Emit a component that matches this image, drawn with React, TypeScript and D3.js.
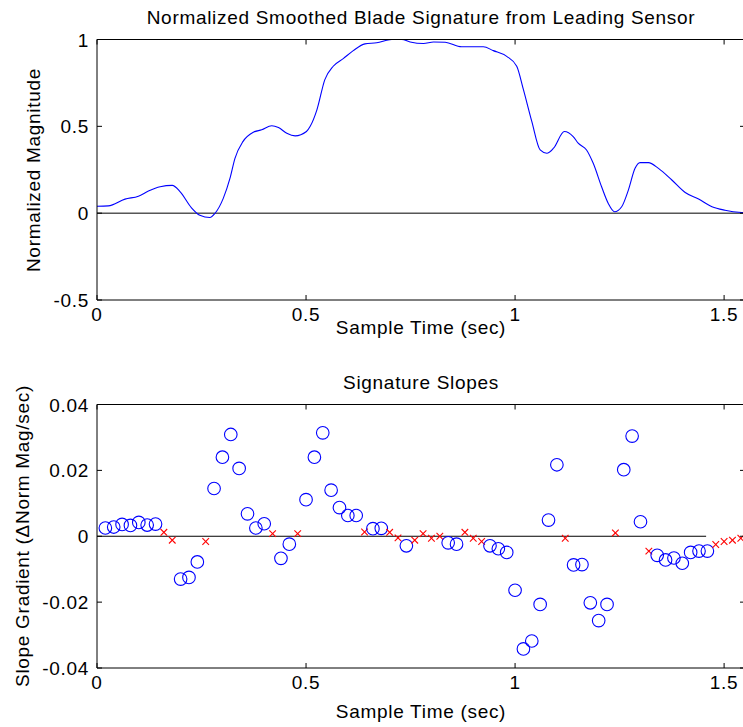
import React from "react";
import * as d3 from "d3";

const sigT = [0, 0.027, 0.067, 0.099, 0.123, 0.151, 0.18, 0.199, 0.226, 0.246, 0.27, 0.282, 0.302, 0.318, 0.33, 0.349, 0.374, 0.394, 0.418, 0.434, 0.454, 0.474, 0.501, 0.51, 0.526, 0.545, 0.565, 0.589, 0.613, 0.641, 0.669, 0.705, 0.729, 0.749, 0.781, 0.805, 0.833, 0.872, 0.924, 0.948, 0.98, 1.004, 1.02, 1.04, 1.06, 1.076, 1.092, 1.118, 1.139, 1.151, 1.171, 1.187, 1.207, 1.223, 1.238, 1.255, 1.271, 1.287, 1.299, 1.319, 1.343, 1.375, 1.407, 1.439, 1.471, 1.502, 1.542, 1.55];
const sigV = [0.04, 0.042, 0.081, 0.098, 0.127, 0.152, 0.16, 0.123, 0.031, -0.012, -0.025, -0.002, 0.085, 0.2, 0.316, 0.412, 0.466, 0.48, 0.503, 0.493, 0.46, 0.445, 0.47, 0.5, 0.595, 0.769, 0.846, 0.89, 0.936, 0.975, 0.981, 1.0, 1.0, 0.986, 0.977, 0.986, 0.984, 0.958, 0.958, 0.936, 0.903, 0.846, 0.711, 0.528, 0.364, 0.345, 0.374, 0.47, 0.441, 0.403, 0.364, 0.287, 0.152, 0.056, 0.008, 0.037, 0.133, 0.258, 0.291, 0.291, 0.258, 0.191, 0.119, 0.081, 0.037, 0.017, 0.004, 0.003];

// slope samples every 0.02 s; kind: 1 = circle, 0 = cross
const slopeV = [0.0025, 0.0028, 0.0036, 0.0033, 0.0042, 0.0034, 0.0037, 0.0012, -0.0012, -0.013, -0.0125, -0.0078, -0.0016, 0.0145, 0.024, 0.0309, 0.0206, 0.0068, 0.0025, 0.0038, 0.0008, -0.0067, -0.0024, 0.0008, 0.0111, 0.024, 0.0314, 0.014, 0.0087, 0.0063, 0.0063, 0.0013, 0.0023, 0.0024, 0.0012, -0.0005, -0.0029, -0.0012, 0.0008, -0.0006, 0.0, -0.002, -0.0024, 0.0012, -0.0006, -0.0016, -0.0029, -0.0038, -0.0049, -0.0164, -0.0342, -0.0318, -0.0207, 0.0049, 0.0217, -0.0006, -0.0087, -0.0086, -0.0202, -0.0256, -0.0207, 0.001, 0.0202, 0.0304, 0.0044, -0.0045, -0.0058, -0.0072, -0.0066, -0.0082, -0.0049, -0.0045, -0.0045, -0.0025, -0.0016, -0.0012, -0.0006];
const slopeKind = [1, 1, 1, 1, 1, 1, 1, 0, 0, 1, 1, 1, 0, 1, 1, 1, 1, 1, 1, 1, 0, 1, 1, 0, 1, 1, 1, 1, 1, 1, 1, 0, 1, 1, 0, 0, 1, 0, 0, 0, 0, 1, 1, 0, 0, 0, 1, 1, 1, 1, 1, 1, 1, 1, 1, 0, 1, 1, 1, 1, 1, 0, 1, 1, 1, 0, 1, 1, 1, 1, 1, 1, 1, 0, 0, 0, 0];
const slopeT = slopeV.map((_, i) => +((i + 1) * 0.02).toFixed(2));

const xTicks = [0, 0.5, 1, 1.5];
const yTicksTop = [-0.5, 0, 0.5, 1];
const yTicksBot = [-0.04, -0.02, 0, 0.02, 0.04];

const FONT = "'Liberation Sans', Arial, sans-serif";
const FS = 19;
const LS = 0.7;

export default function App() {
  const W = 743, H = 727;
  const x = d3.scaleLinear().domain([0, 1.55]).range([97, 745]);
  const yT = d3.scaleLinear().domain([-0.5, 1]).range([300, 39.5]);
  const yB = d3.scaleLinear().domain([-0.04, 0.04]).range([668, 404.5]);
  const line = d3.line<number>().x((_, i) => x(sigT[i])).y((d) => yT(d)).curve(d3.curveMonotoneX);

  const txt = { fontSize: FS, fontFamily: FONT, letterSpacing: LS } as const;

  const axes = (y: d3.ScaleLinear<number, number>, yTicks: number[], fmt: (v: number) => string) => {
    const [top, bot] = [y.range()[1], y.range()[0]];
    return (
      <g>
        <line x1={97} x2={745} y1={top} y2={top} stroke="#000" />
        <line x1={97} x2={745} y1={bot} y2={bot} stroke="#000" />
        <line x1={97} x2={97} y1={top} y2={bot} stroke="#000" />
        {xTicks.map((t) => (
          <g key={"x" + t}>
            <line x1={x(t)} x2={x(t)} y1={bot} y2={bot - 5} stroke="#000" />
            <line x1={x(t)} x2={x(t)} y1={top} y2={top + 5} stroke="#000" />
            <text x={x(t)} y={bot + 21} textAnchor="middle" {...txt}>{String(t)}</text>
          </g>
        ))}
        {yTicks.map((t) => (
          <g key={"y" + t}>
            <line x1={97} x2={102} y1={y(t)} y2={y(t)} stroke="#000" />
            <line x1={745} x2={740} y1={y(t)} y2={y(t)} stroke="#000" />
            <text x={89} y={y(t) + 7} textAnchor="end" {...txt}>{fmt(t)}</text>
          </g>
        ))}
      </g>
    );
  };

  return (
    <svg width={W} height={H} style={{ position: "absolute", left: 0, top: 0, background: "#fff" }}>
      <rect width={W} height={H} fill="#fff" />
      {/* Top plot */}
      <text x={421} y={24} textAnchor="middle" {...txt}>Normalized Smoothed Blade Signature from Leading Sensor</text>
      <line x1={97} x2={745} y1={yT(0)} y2={yT(0)} stroke="#000" />
      <path d={line(sigV) || ""} fill="none" stroke="#0000ff" strokeWidth={1.1} />
      {axes(yT, yTicksTop, (v) => String(v))}
      <text x={421} y={334} textAnchor="middle" {...txt}>Sample Time (sec)</text>
      <text transform={`translate(40,170) rotate(-90)`} textAnchor="middle" {...txt}>Normalized Magnitude</text>

      {/* Bottom plot */}
      <text x={421} y={389} textAnchor="middle" {...txt}>Signature Slopes</text>
      <line x1={97} x2={x(1.457)} y1={yB(0)} y2={yB(0)} stroke="#000" />
      {slopeV.map((v, i) =>
        slopeKind[i] === 1 ? (
          <circle key={i} cx={x(slopeT[i])} cy={yB(v)} r={6.3} fill="none" stroke="#0000ff" strokeWidth={1.1} />
        ) : (
          <g key={i} stroke="#ff0000" strokeWidth={1.1}>
            <line x1={x(slopeT[i]) - 3.3} x2={x(slopeT[i]) + 3.3} y1={yB(v) - 3.3} y2={yB(v) + 3.3} />
            <line x1={x(slopeT[i]) - 3.3} x2={x(slopeT[i]) + 3.3} y1={yB(v) + 3.3} y2={yB(v) - 3.3} />
          </g>
        )
      )}
      {axes(yB, yTicksBot, (v) => (v === 0 ? "0" : String(v)))}
      <text x={421} y={718} textAnchor="middle" {...txt}>Sample Time (sec)</text>
      <text transform={`translate(29,536) rotate(-90)`} textAnchor="middle" {...txt}>Slope Gradient (ΔNorm Mag/sec)</text>
    </svg>
  );
}
